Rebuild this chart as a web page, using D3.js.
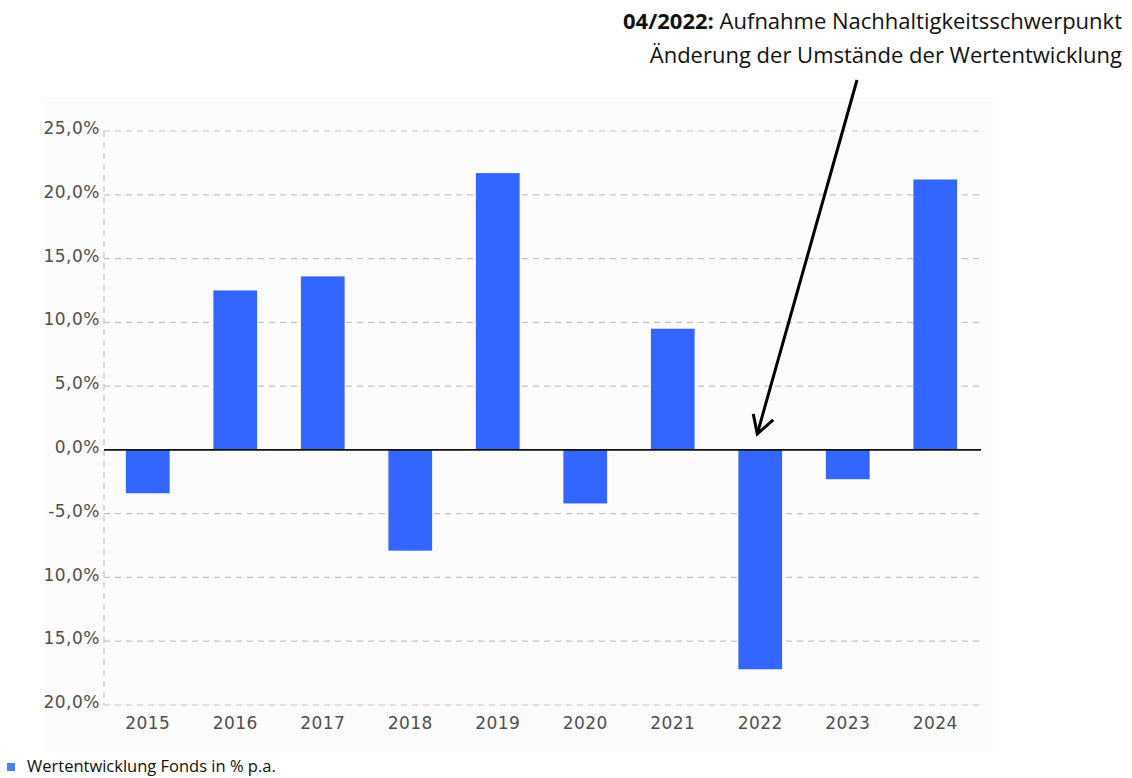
<!DOCTYPE html>
<html><head><meta charset="utf-8">
<script src="https://cdn.jsdelivr.net/npm/d3@7"></script>
<style>html,body{margin:0;padding:0;background:#fff;}svg{display:block;}</style>
</head><body>
<svg id="c" width="1132" height="778"></svg>
<script>
const years = ["2015","2016","2017","2018","2019","2020","2021","2022","2023","2024"];
const values = [-3.4, 12.5, 13.6, -7.9, 21.7, -4.2, 9.5, -17.2, -2.3, 21.2];
const yTicks = [25, 20, 15, 10, 5, 0, -5, -10, -15, -20];
const yTickLabels = ["25,0%","20,0%","15,0%","10,0%","5,0%","0,0%","-5,0%","10,0%","15,0%","20,0%"];
const seriesName = "Wertentwicklung Fonds in % p.a.";
const noteBold = "04/2022:";
const noteLine1 = " Aufnahme Nachhaltigkeitsschwerpunkt";
const noteLine2 = "Änderung der Umstände der Wertentwicklung";
const noteYear = "2022";

const svg = d3.select("#c");
// panel background
svg.append("rect").attr("x",42).attr("y",97).attr("width",951).attr("height",655).attr("fill","#fcfcfc");

const x = d3.scaleBand().domain(years).range([104,979]).paddingInner(0.5).paddingOuter(0.25);
const y = d3.scaleLinear().domain([-20,25]).range([705,131]);

// grid
const grid = svg.append("g");
grid.selectAll("line").data(yTicks.filter(d=>d!==0)).join("line")
  .attr("x1",104).attr("x2",979).attr("y1",d=>y(d)).attr("y2",d=>y(d))
  .attr("stroke","#c4c4c4").attr("stroke-width",1.2).attr("stroke-dasharray","6,5");
svg.append("line").attr("x1",104).attr("x2",104).attr("y1",y(25)).attr("y2",y(-20))
  .attr("stroke","#c4c4c4").attr("stroke-width",1.2).attr("stroke-dasharray","6,5");

// y labels
const yAxis = d3.axisLeft(y).tickValues(yTicks).tickSize(0).tickPadding(4)
  .tickFormat((d,i)=>yTickLabels[i]);
const ya = svg.append("g").attr("transform","translate(104,0)").call(yAxis);
ya.select(".domain").remove();
ya.selectAll("text").attr("font-family","DejaVu Sans").attr("font-size",17).attr("fill","#505050")
  .attr("letter-spacing","0.5px").attr("dy","0.15em");

// x labels
const xAxis = d3.axisBottom(x).tickSize(0).tickPadding(12);
const xa = svg.append("g").attr("transform",`translate(0,${y(-20)})`).call(xAxis);
xa.select(".domain").remove();
xa.selectAll("text").attr("font-family","DejaVu Sans").attr("font-size",17).attr("fill","#505050")
  .attr("letter-spacing","0.5px");

// bars
svg.append("g").selectAll("rect").data(years).join("rect")
  .attr("x",d=>x(d)).attr("width",x.bandwidth())
  .attr("y",(d,i)=>y(Math.max(0,values[i])))
  .attr("height",(d,i)=>Math.abs(y(values[i])-y(0)))
  .attr("fill","#3366ff");

// zero line
svg.append("line").attr("x1",104).attr("x2",981).attr("y1",y(0)).attr("y2",y(0))
  .attr("stroke","#111").attr("stroke-width",1.6);

// annotation
const nf = "'Open Sans', sans-serif";
const t1 = svg.append("text").attr("x",1122).attr("y",29).attr("text-anchor","end")
  .attr("font-family",nf).attr("font-size",22).attr("fill","#111");
t1.append("tspan").attr("font-weight","bold").text(noteBold);
t1.append("tspan").text(noteLine1);
svg.append("text").attr("x",1122).attr("y",63).attr("text-anchor","end")
  .attr("font-family",nf).attr("font-size",22).attr("fill","#111").text(noteLine2);

// arrow
const tipX = x(noteYear)+x.bandwidth()/2 - 3, tipY = y(0)-16;
svg.append("line").attr("x1",857).attr("y1",80).attr("x2",tipX).attr("y2",tipY)
  .attr("stroke","#000").attr("stroke-width",3);
svg.append("path").attr("d",`M${tipX-4},${tipY-20} L${tipX},${tipY} L${tipX+16},${tipY-14}`)
  .attr("fill","none").attr("stroke","#000").attr("stroke-width",3).attr("stroke-linejoin","miter");

// legend
svg.append("rect").attr("x",7).attr("y",763).attr("width",8).attr("height",8).attr("fill","#4a86e8");
svg.append("text").attr("x",27).attr("y",772).attr("font-family",nf).attr("font-size",16.5)
  .attr("fill","#111").text(seriesName);
</script>
</body></html>
